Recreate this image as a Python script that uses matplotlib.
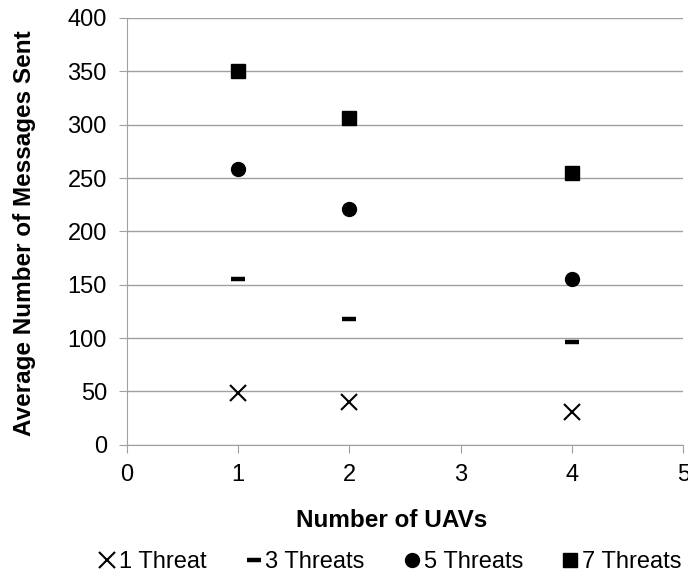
import matplotlib.pyplot as plt

plt.rcParams['font.family'] = ['Liberation Sans', 'DejaVu Sans']

uavs = [1, 2, 4]
threat1 = [48.7, 40.6, 31.2]
threat3 = [155.5, 118.3, 96.2]
threat5 = [258.3, 220.8, 155.2]
threat7 = [350.5, 306.6, 254.5]

fig = plt.figure(figsize=(6.88, 5.77), dpi=100)
ax = fig.add_axes([0.1846, 0.229, 0.8084, 0.74])

ax.plot(uavs, threat1, linestyle='none', marker='x', color='black',
        markersize=11, markeredgewidth=1.5, label='1 Threat')
ax.plot(uavs, threat3, linestyle='none', marker='_', color='black',
        markersize=10, markeredgewidth=3.2, label='3 Threats')
ax.plot(uavs, threat5, linestyle='none', marker='o', color='black',
        markersize=10, label='5 Threats')
ax.plot(uavs, threat7, linestyle='none', marker='s', color='black',
        markersize=10, label='7 Threats')

ax.set_xlim(0, 5)
ax.set_ylim(0, 400)
ax.set_xticks(range(0, 6))
ax.set_yticks(range(0, 401, 50))
ax.yaxis.grid(True, color='#a0a0a0', linewidth=1)
ax.set_axisbelow(True)
for s in ['top', 'right']:
    ax.spines[s].set_visible(False)
for s in ['left', 'bottom']:
    ax.spines[s].set_color('#a0a0a0')
ax.tick_params(axis='both', labelsize=17, color='#a0a0a0', length=5.5)
ax.tick_params(axis='y', pad=9)
ax.tick_params(axis='x', pad=8)

ax.set_xlabel('Number of UAVs', fontsize=17.5, fontweight='bold')
ax.set_ylabel('Average Number of Messages Sent', fontsize=17.5, fontweight='bold')
ax.xaxis.label.set_va('center')
ax.yaxis.label.set_va('center')
ax.xaxis.set_label_coords(0.476, -0.176)
ax.yaxis.set_label_coords(-0.1835, 0.495)

# legend in one row under the x label
fig.legend(loc='center', bbox_to_anchor=(0.568, 0.026), ncol=4, frameon=False,
           fontsize=17, handlelength=0.6, handletextpad=0.2, columnspacing=1.7,
           borderpad=0, borderaxespad=0)

fig.savefig('out.png', dpi=100)
